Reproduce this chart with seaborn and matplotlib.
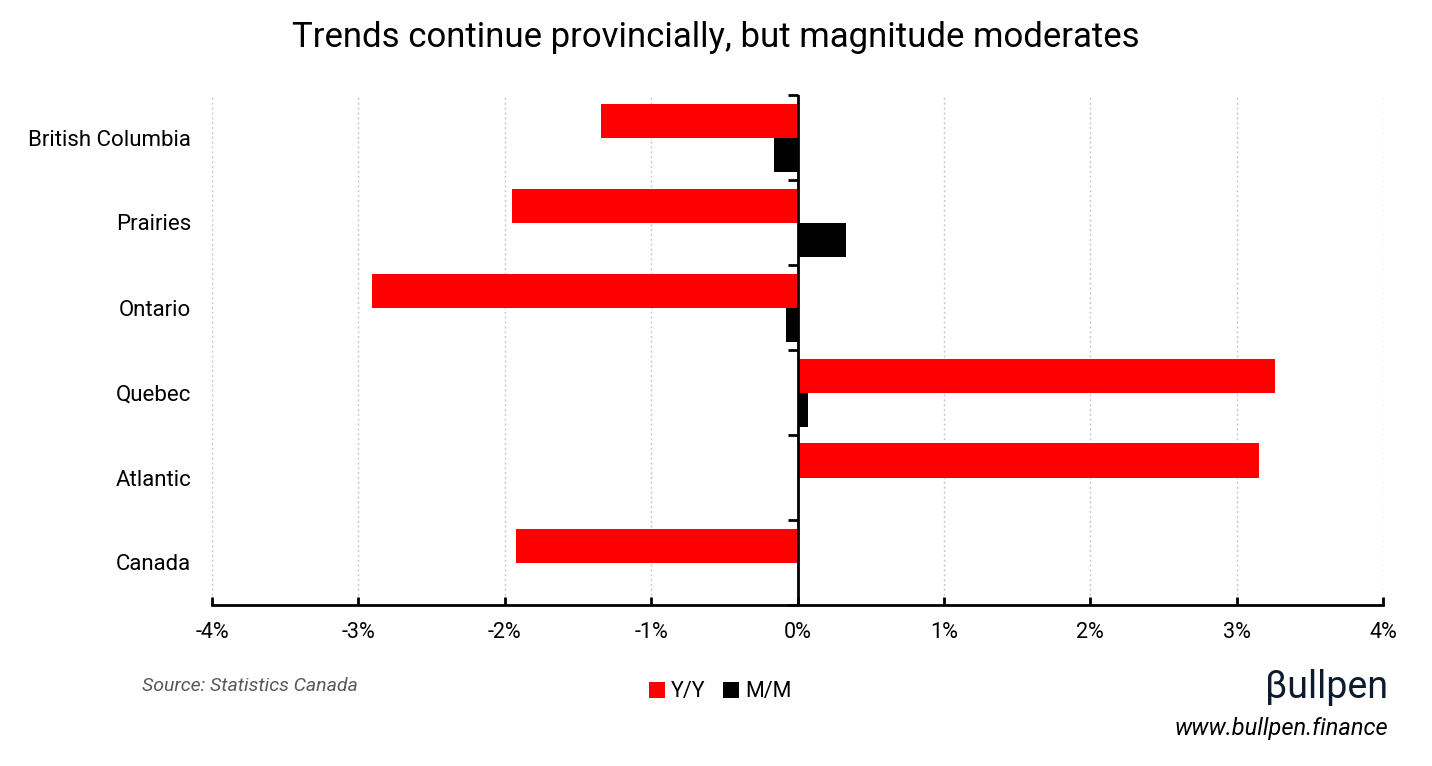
import pandas as pd
import matplotlib
matplotlib.use("Agg")
import matplotlib.pyplot as plt
from matplotlib.ticker import PercentFormatter, MultipleLocator
import seaborn as sns

# values, in percent
regions = ["British Columbia", "Prairies", "Ontario", "Quebec", "Atlantic", "Canada"]
yoy = [-1.34, -1.95, -2.91, 3.26, 3.15, -1.92]
mom = [-0.16, 0.33, -0.08, 0.07, 0.0, 0.0]
series = ["Y/Y", "M/M"]

df = pd.DataFrame({
    "Region": regions * 2,
    "Series": [series[0]] * len(regions) + [series[1]] * len(regions),
    "Change": yoy + mom,
})

sns.set_theme(style="white")
plt.rcParams["font.family"] = ["Roboto", "DejaVu Sans"]
plt.rcParams["axes.unicode_minus"] = False
plt.rcParams["text.color"] = "black"
plt.rcParams["xtick.labelcolor"] = "black"
plt.rcParams["ytick.labelcolor"] = "black"

fig = plt.figure(figsize=(14.32, 7.66), dpi=100)
ax = fig.add_axes([212 / 1432, 1 - 605 / 766, (1383 - 212) / 1432, (605 - 95) / 766])

sns.barplot(data=df, x="Change", y="Region", hue="Series", order=regions,
            hue_order=series, palette={"Y/Y": "#ff0000", "M/M": "#000000"},
            orient="h", width=0.8, errorbar=None, ax=ax, saturation=1,
            linewidth=0)

ax.set_xlim(-4, 4)
ax.set_ylim(len(regions) - 0.5, -0.5)
ax.xaxis.set_major_locator(MultipleLocator(1))
ax.xaxis.set_major_formatter(PercentFormatter(decimals=0))
ax.set_xlabel("")
ax.set_ylabel("")

# grid
ax.grid(axis="x", color="#c8c8c8", linestyle=(0, (1.5, 2)), linewidth=1)
ax.set_axisbelow(True)

for s in ["top", "right", "left"]:
    ax.spines[s].set_visible(False)
ax.spines["bottom"].set_color("black")
ax.spines["bottom"].set_linewidth(2)
ax.tick_params(axis="x", direction="in", length=6, width=2, color="black",
               labelsize=15.5, pad=12, bottom=True, labelcolor="black")
ax.tick_params(axis="y", length=0, labelsize=16, pad=15, labelcolor="black")

# zero line with category boundary ticks
ax.axvline(0, color="black", linewidth=2, zorder=4)
zero_axis = ax.secondary_yaxis(0.5)
zero_axis.set_yticks([i - 0.5 for i in range(len(regions) + 1)])
zero_axis.set_yticklabels([])
for s in zero_axis.spines.values():
    s.set_visible(False)
zero_axis.tick_params(axis="y", left=True, right=False, direction="out",
                      length=7, width=2, color="black")

handles, labels = ax.get_legend_handles_labels()
ax.legend(handles, labels, loc="center", bbox_to_anchor=(0.503, 0.097),
          bbox_transform=fig.transFigure, ncol=2, frameon=False, fontsize=15.5,
          handlelength=0.75, handleheight=0.75, handletextpad=0.3,
          columnspacing=0.8, labelcolor="black")

fig.text(0.5, 0.951, "Trends continue provincially, but magnitude moderates",
         ha="center", va="center", fontsize=25, color="black")
fig.text(142 / 1432, 1 - 686 / 766, "Source: Statistics Canada", ha="left",
         va="center", fontsize=14, style="italic", color="#595959")
fig.text(1388 / 1432, 1 - 688 / 766, "\u03b2ullpen", ha="right", va="center",
         fontsize=27, color="#0d1b2e")
fig.text(1388 / 1432, 1 - 728 / 766, "www.bullpen.finance", ha="right",
         va="center", fontsize=17, style="italic", color="black")

fig.savefig("out.png", dpi=100)
